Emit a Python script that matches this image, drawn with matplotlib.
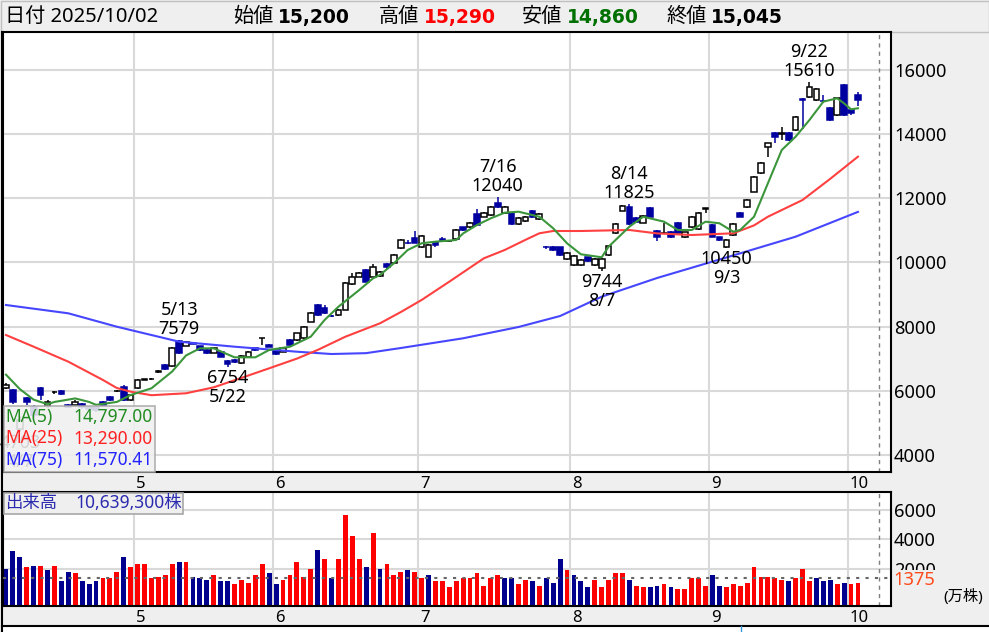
import matplotlib
matplotlib.use('Agg')
import matplotlib.pyplot as plt
import matplotlib.transforms as mtransforms
from matplotlib.patches import Rectangle
import numpy as np

plt.rcParams['font.family'] = ['Noto Sans', 'Noto Sans CJK JP', 'DejaVu Sans']

# 日足 2025/4/3 - 2025/10/2 (124営業日)
opens = [6080, 6020, 4800, 5760, 5500, 6080, 5530, 5945, 5990, 5560,
         5555, 5600, 5500, 5480, 5660, 5810, 6000, 6125, 5710, 6075,
         6340, 6350, 6580, 6800, 6770, 7550, 7400, 7490, 7390, 7270,
         7185, 7215, 6925, 6960, 6855, 7060, 7320, 7640, 7420, 7270,
         7215, 7580, 7580, 7630, 8150, 8670, 8575, 8340, 8360, 8515,
         9325, 9550, 9760, 9550, 9570, 9940, 9990, 10435, 10610, 10750,
         10475, 10175, 10620, 10720, 10660, 10715, 11090, 11090, 11505, 11420,
         11475, 11855, 11525, 11545, 11195, 11295, 11610, 11340, 10480, 10485,
         10465, 10095, 9915, 9915, 10155, 9915, 9815, 10225, 10905, 11610,
         11715, 11370, 11235, 11680, 10985, 10910, 10955, 11235, 10780, 11090,
         11030, 11675, 11160, 10780, 10485, 10850, 11525, 11730, 12200, 12770,
         13580, 14020, 14010, 14020, 14120, 15075, 15160, 15055, 15030, 14800,
         14590, 15510, 14745, 15200]
highs = [6230, 6060, 5200, 5800, 5550, 6125, 5720, 6000, 6010, 5600,
         5700, 5620, 5530, 5500, 5680, 5850, 6030, 6180, 5900, 6360,
         6380, 6400, 6630, 6830, 7350, 7579, 7550, 7520, 7400, 7290,
         7350, 7240, 6950, 6980, 7100, 7240, 7340, 7650, 7440, 7290,
         7340, 7600, 7810, 8020, 8440, 8690, 8660, 8370, 8540, 9400,
         9660, 9700, 9790, 9960, 9720, 9990, 10260, 10740, 10680, 10975,
         10840, 10560, 10640, 10800, 10700, 11030, 11110, 11240, 11650, 11560,
         11740, 12040, 11740, 11580, 11400, 11450, 11640, 11530, 10520, 10510,
         10490, 10320, 10220, 10100, 10180, 10120, 10130, 10530, 11230, 11790,
         11825, 11400, 11470, 11710, 11010, 11235, 10980, 11260, 10950, 11450,
         11570, 11700, 11190, 10800, 10720, 11220, 11560, 11970, 12700, 13130,
         13720, 14070, 14220, 14060, 14570, 15110, 15610, 15420, 15210, 14850,
         15130, 15540, 14780, 15290]
lows = [6040, 5590, 4703, 5550, 5150, 5710, 5450, 5900, 5870, 5450,
        5520, 5430, 5380, 5350, 5520, 5690, 5960, 5690, 5690, 6050,
        6320, 6320, 6560, 6650, 6750, 7150, 7380, 7440, 7250, 7150,
        7170, 7040, 6754, 6860, 6840, 7040, 7250, 7420, 7350, 7120,
        7200, 7400, 7560, 7610, 8130, 8330, 8400, 8300, 8330, 8500,
        9300, 9530, 9380, 9530, 9550, 9800, 9970, 10400, 10560, 10590,
        10450, 10150, 10490, 10630, 10620, 10700, 10990, 11070, 11140, 11400,
        11450, 11700, 11500, 11170, 11150, 11270, 11390, 11320, 10400, 10350,
        10200, 10070, 9890, 9890, 10020, 9890, 9744, 10200, 10880, 11590,
        11170, 11250, 11210, 11400, 10670, 10880, 10760, 10900, 10750, 11070,
        11010, 11520, 10780, 10670, 10450, 10830, 11400, 11700, 12180, 12750,
        13290, 13710, 13810, 13780, 14100, 14150, 15130, 15030, 14970, 14400,
        14560, 14560, 14600, 14860]
closes = [6180, 5660, 5100, 5640, 5250, 5870, 5660, 5945, 5890, 5500,
          5660, 5480, 5420, 5400, 5555, 5710, 6000, 5710, 5866, 6334,
          6360, 6365, 6600, 6670, 7320, 7185, 7530, 7470, 7270, 7175,
          7330, 7060, 6830, 6880, 7080, 7215, 7270, 7640, 7370, 7145,
          7320, 7420, 7790, 7995, 8410, 8360, 8420, 8330, 8515, 9345,
          9550, 9660, 9400, 9860, 9690, 9860, 10230, 10695, 10600, 10615,
          10810, 10540, 10550, 10650, 10665, 11005, 11010, 11215, 11160, 11525,
          11715, 11730, 11715, 11195, 11370, 11420, 11410, 11505, 10465, 10380,
          10225, 10300, 10195, 10070, 10050, 10095, 10100, 10505, 11195, 11755,
          11195, 11270, 11440, 11420, 10780, 10920, 10780, 10920, 10930, 11420,
          11545, 11685, 10800, 10695, 10700, 11195, 11420, 11940, 12665, 13100,
          13705, 13910, 14030, 13810, 14535, 15040, 15470, 15390, 15020, 14430,
          15105, 14590, 14650, 15045]

# 出来高 (万株) と前日比 (u: 上げ, d: 下げ)
volumes = [2017, 3197, 2790, 2112, 2221, 2221, 1929, 2221, 1161, 1816,
           1703, 1161, 957, 1177, 1385, 1385, 1816, 2790, 2112, 2336,
           2336, 1385, 1475, 1588, 2336, 2449, 2449, 1475, 1385, 1272,
           1588, 1161, 1161, 957, 1272, 1068, 1588, 2336, 1703, 957,
           1272, 1588, 2449, 1475, 2017, 3308, 2653, 1385, 2653, 5638,
           4236, 2653, 2112, 4461, 2017, 2336, 1588, 1816, 1906, 1816,
           1385, 1588, 1161, 1161, 753, 1161, 1385, 1385, 1703, 842,
           1385, 1588, 1385, 1385, 957, 1272, 1161, 842, 1385, 1068,
           2653, 1906, 1588, 1161, 753, 1272, 753, 1272, 1703, 1703,
           1272, 842, 753, 753, 842, 957, 753, 642, 642, 1385,
           1385, 842, 1588, 842, 753, 957, 842, 1068, 2112, 1475,
           1475, 1385, 1272, 1161, 1385, 2017, 1161, 1385, 1161, 1272,
           957, 1068, 957, 1064]
vol_dir = ("dddudududd" "uddduuuduu" "uuuuududdd" "udduuuuudd" "uuuuududuu"
           "uududuuudu" "uduuuuuuuu" "uudduududd" "duddduuuuu" "duudduduuu"
           "uudduuuuuu" "uuuduuuddd" "uduu")

month_labels = ['5', '6', '7', '8', '9', '10']
month_first = [19, 39, 60, 82, 102, 122]

# 移動平均線 (チャートから読み取り: 営業日番号, 値)
ma5_idx = [0, 2, 4, 6, 7, 10, 12, 13, 16, 18, 21, 24, 26, 28, 30, 33, 36, 38, 41, 44,
           46, 48, 51, 53, 54, 56, 58, 60, 62, 65, 66, 68, 70, 72, 74, 77, 79, 81, 83, 86,
           87, 90, 92, 95, 97, 99, 101, 103, 105, 106, 108, 110, 112, 114, 116, 118, 120,
           121, 122, 123]
ma5_val = [6500, 6050, 5720, 5580, 5650, 5760, 5650, 5560, 5650, 5866, 6075, 6600, 7100,
           7320, 7320, 7040, 7040, 7270, 7370, 7683, 8203, 8617, 9137, 9502, 9604, 9969,
           10383, 10592, 10642, 10695, 10900, 11162, 11371, 11545, 11576, 11420, 11059,
           10592, 10250, 10156, 10486, 11109, 11420, 11265, 11006, 11006, 11265, 11215,
           10953, 11006, 11420, 12461, 13498, 13912, 14433, 15003, 15109, 14950, 14766,
           14797]
ma25_idx = [0, 4, 9, 14, 16, 18, 21, 26, 30, 34, 38, 42, 45, 49, 54, 57, 60, 64, 69,
            72, 75, 77, 79, 83, 90, 94, 99, 105, 108, 110, 115, 119, 123]
ma25_val = [7735, 7371, 6904, 6334, 6085, 5970, 5860, 5920, 6106, 6400, 6698, 7000,
            7270, 7682, 8100, 8450, 8826, 9396, 10125, 10383, 10700, 10903, 10975,
            10975, 11006, 10900, 10850, 10903, 11150, 11420, 11940, 12600, 13290]
ma75_idx = [0, 9, 16, 25, 33, 42, 47, 52, 57, 66, 74, 80, 86, 94, 104, 114, 123]
ma75_val = [8670, 8411, 7994, 7527, 7371, 7215, 7143, 7170, 7330, 7633, 7985, 8327,
            8928, 9511, 10150, 10797, 11570]
ma_names = ['MA(5)', 'MA(25)', 'MA(75)']
ma_latest = ['14,797.00', '13,290.00', '11,570.41']

# 高値・安値の注記
marks = [(2, 4703, '4/7', 'low'), (25, 7579, '5/13', 'high'), (32, 6754, '5/22', 'low'),
         (71, 12040, '7/16', 'high'), (86, 9744, '8/7', 'low'), (90, 11825, '8/14', 'high'),
         (104, 10450, '9/3', 'low'), (116, 15610, '9/22', 'high')]

last_date = '2025/10/02'
last_volume = 10639300
vol_mark = 1375

W, H = 989, 632
fig = plt.figure(figsize=(W / 100, H / 100), dpi=100, facecolor='#efefef')


def box(x0, y0, x1, y1):
    return [x0 / W, 1 - y1 / H, (x1 - x0) / W, (y1 - y0) / H]


bg = fig.add_axes([0, 0, 1, 1], zorder=0)
bg.set_xlim(0, W)
bg.set_ylim(H, 0)
bg.axis('off')
ax = fig.add_axes(box(3, 31.5, 890.5, 472), zorder=1)
axv = fig.add_axes(box(3, 492, 890.5, 606), zorder=1)
ov = fig.add_axes([0, 0, 1, 1], zorder=3)
ov.set_xlim(0, W)
ov.set_ylim(H, 0)
ov.axis('off')

# 枠
bg.add_patch(Rectangle((0.5, 0.5), W - 1, 31, fc='#efefef', ec='#c0c0c0', lw=1))
bg.add_patch(Rectangle((2, 626), W, 8, fc='white', ec='none'))
bg.plot([2, W], [626, 626], color='black', lw=1.5)
bg.plot([2.2, 2.2], [31.5, 632], color='black', lw=1.5)
bg.plot([741, 741], [626, 632], color='#3399dd', lw=1)

x = np.arange(len(closes))
o = np.array(opens)
c = np.array(closes)
up = c >= o
navy = '#0000a0'
edge = np.where(up, 'black', navy)
face = np.where(up, 'white', navy)
bounds = [m - 0.5 for m in month_first]
shift = mtransforms.ScaledTranslation(2 / 100, 0, fig.dpi_scale_trans)

for a in (ax, axv):
    a.set_facecolor('white')
    a.set_xlim(-0.43, 127.7)
    a.set_xticks(bounds)
    a.set_xticklabels(month_labels)
    a.yaxis.tick_right()
    a.tick_params(length=0)
    a.tick_params(axis='y', labelsize=13.2, pad=2.5)
    a.tick_params(axis='x', labelsize=12, pad=3)
    for t in a.get_xticklabels():
        t.set_ha('left')
        t.set_transform(t.get_transform() + shift)
    a.grid(True, color='#d9d9d9', lw=1.5)
    a.set_axisbelow(True)
    for s in a.spines.values():
        s.set_linewidth(1.5)
    a.axvline(126, color='#808080', ls=(0, (3, 3)), lw=1)

# ローソク足
ax.set_ylim(3468, 17189)
ax.set_yticks(range(4000, 16001, 2000))
ax.vlines(x, lows, highs, colors=edge, lw=1.1, zorder=2)
ax.bar(x, np.abs(c - o), bottom=np.minimum(o, c), width=0.82, color=face,
       edgecolor=edge, lw=1.1, zorder=3)

ax.plot(ma75_idx, ma75_val, color='#4646ff', lw=1.5, zorder=4)
ax.plot(ma25_idx, ma25_val, color='#ff4040', lw=1.5, zorder=4)
ax.plot(ma5_idx, ma5_val, color='#3b963b', lw=1.5, zorder=5)

for i, v, d, kind in marks:
    s = 1 if kind == 'high' else -1
    ax.annotate(str(v), (i, v), xytext=(0, s * 11), textcoords='offset pixels',
                ha='center', va='center', fontsize=13, zorder=6)
    ax.annotate(d, (i, v), xytext=(0, s * 30), textcoords='offset pixels',
                ha='center', va='center', fontsize=13, zorder=6)

# 出来高
floor = -516
axv.set_ylim(floor, 7223)
axv.set_yticks([2000, 4000, 6000])
vcols = ['#ff0000' if d == 'u' else '#00008f' for d in vol_dir]
axv.bar(x, np.array(volumes) - floor, bottom=floor, width=0.7, color=vcols, lw=0, zorder=2)
axv.axhline(vol_mark, color='#666666', ls=(0, (1.5, 3)), lw=1.5, zorder=3)
axv.annotate(str(vol_mark), (1.0, vol_mark), xycoords=axv.get_yaxis_transform(),
             xytext=(3, -2), textcoords='offset pixels', ha='left', va='center',
             fontsize=13.2, color='#ff4a1a', annotation_clip=False,
             bbox=dict(fc='#efefef', ec='none', pad=0.5))
ov.text(943, 597, '(万株)', fontsize=11, va='center', ha='left')

# 凡例ボックス
ov.add_patch(Rectangle((3.5, 405.5), 151.5, 66, fc='#f0f0f0', ec='#a8a8a8', lw=1.2, alpha=0.88))
ma_cols = ['#228b22', '#ff2020', '#2222ff']
for k in range(3):
    yy = 417 + k * 21.5
    ov.text(5, yy, ma_names[k], color=ma_cols[k], fontsize=12.5, va='center', ha='left')
    ov.text(152.5, yy, ma_latest[k], color=ma_cols[k], fontsize=12.5, va='center', ha='right')

ov.add_patch(Rectangle((3.5, 492.5), 179.5, 21, fc='#efefef', ec='#a8a8a8', lw=1.2))
ov.text(5, 503, '出来高', color='#2b2bb0', fontsize=12.5, va='center')
ov.text(75, 503, f'{last_volume:,}株', color='#2b2bb0', fontsize=12.5, va='center')

# ヘッダー
hy = 17
ov.text(5, hy, f'日付 {last_date}', fontsize=14.5, va='center')
items = [('始値', opens[-1], 'black', 233), ('高値', highs[-1], '#ff0000', 379),
         ('安値', lows[-1], '#007000', 522), ('終値', closes[-1], 'black', 666)]
for name, val, col, hx in items:
    ov.text(hx, hy, name, fontsize=14.5, va='center')
    ov.text(hx + 45, hy, f'{val:,}', fontsize=13.5, va='center', color=col,
            fontweight='bold', family='DejaVu Sans')

fig.savefig('out.png', dpi=100, facecolor=fig.get_facecolor())
